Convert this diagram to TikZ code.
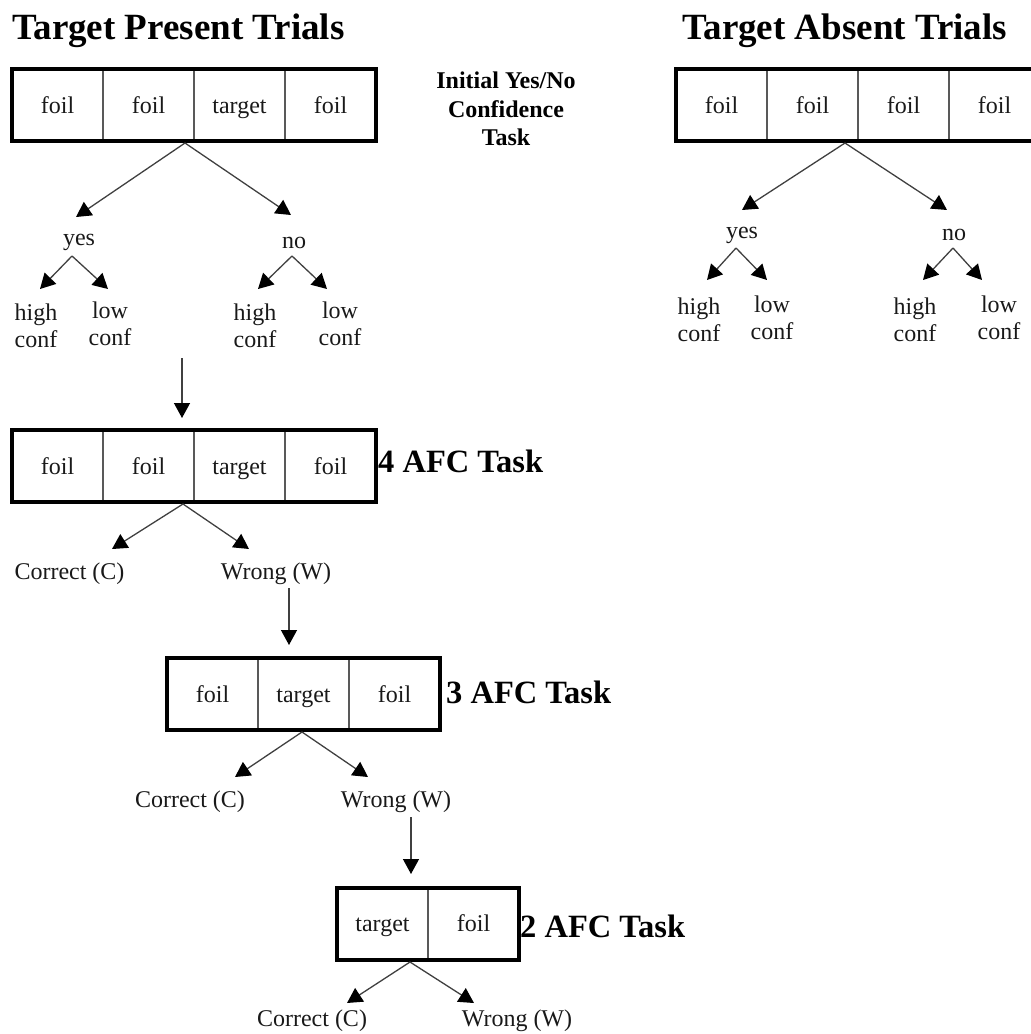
\documentclass[tikz,border=0pt]{standalone}
\usepackage{fontspec}
\setmainfont{Liberation Serif}
\usetikzlibrary{arrows.meta,fit}
\begin{document}
\begin{tikzpicture}[x=1pt,y=-1pt,
  cell/.style={draw=black!65,line width=2.2pt,minimum width=91pt,minimum height=72pt,inner sep=0pt,outer sep=0pt,text height=20pt,text depth=4pt,font=\fontsize{24}{27}\selectfont,text=black!90},
  frame/.style={draw=black,line width=4pt,inner sep=0pt,outer sep=0pt},
  lbl/.style={font=\fontsize{24}{27}\selectfont,align=center,inner sep=0pt,text=black!90},
  title/.style={font=\fontsize{37}{40}\selectfont\bfseries,inner sep=0pt,anchor=base west},
  task/.style={font=\fontsize{32.5}{36}\selectfont\bfseries,inner sep=0pt,anchor=west},
  arr/.style={draw=black!75,line width=1.3pt,-{Triangle[length=15pt,width=16pt,color=black]}}]
\useasboundingbox (0,0) rectangle (1031,1034);
\clip (0,0) rectangle (1031,1034);

% titles
\node[title] (tp) at (12,39) {Target Present Trials};
\node[title] (ta) at (682,39) {Target Absent Trials};
\node[font=\fontsize{24}{28.5}\selectfont\bfseries,align=center,inner sep=0pt] (init) at (506,109) {Initial Yes/No\\Confidence\\Task};

% Target present: initial box
\node[cell] (p1) at (57.5,105) {foil};
\node[cell] (p2) at (148.5,105) {foil};
\node[cell] (p3) at (239.5,105) {target};
\node[cell] (p4) at (330.5,105) {foil};
\node[frame,fit=(p1)(p4)] (box1) {};

\coordinate (o1) at (185,143);
\node[lbl] (yes1) at (79,242) {yes};
\node[lbl] (no1) at (294,243) {no};
\coordinate (ty1) at (76,217);
\coordinate (tn1) at (291,215);
\draw[arr] (o1) -- (ty1);
\draw[arr] (o1) -- (tn1);

\coordinate (oy1) at (72,256);
\coordinate (oy1h) at (40,289);
\coordinate (oy1l) at (108,289);
\node[lbl] (yh1) at (36,326) {high\\conf};
\node[lbl] (yl1) at (110,324) {low\\conf};
\draw[arr] (oy1) -- (oy1h);
\draw[arr] (oy1) -- (oy1l);

\coordinate (on1) at (292,256);
\coordinate (on1h) at (258,289);
\coordinate (on1l) at (327,289);
\node[lbl] (nh1) at (255,326) {high\\conf};
\node[lbl] (nl1) at (340,324) {low\\conf};
\draw[arr] (on1) -- (on1h);
\draw[arr] (on1) -- (on1l);

% 4 AFC
\coordinate (d1s) at (182,358);
\coordinate (d1e) at (182,418);
\draw[arr] (d1s) -- (d1e);
\node[cell] (f1) at (57.5,466) {foil};
\node[cell] (f2) at (148.5,466) {foil};
\node[cell] (f3) at (239.5,466) {target};
\node[cell] (f4) at (330.5,466) {foil};
\node[frame,fit=(f1)(f4)] (box4) {};
\node[task] (t4) at (378,461) {4 AFC Task};
\coordinate (o4) at (183,504);
\coordinate (o4c) at (112,549);
\coordinate (o4w) at (249,549);
\node[lbl] (c4) at (69.5,574) {Correct (C)};
\node[lbl] (w4) at (276,574) {Wrong (W)};
\draw[arr] (o4) -- (o4c);
\draw[arr] (o4) -- (o4w);

% 3 AFC
\coordinate (d2s) at (289,588);
\coordinate (d2e) at (289,645);
\draw[arr] (d2s) -- (d2e);
\node[cell] (g1) at (212.5,694) {foil};
\node[cell] (g2) at (303.5,694) {target};
\node[cell] (g3) at (394.5,694) {foil};
\node[frame,fit=(g1)(g3)] (box3) {};
\node[task] (t3) at (446,692) {3 AFC Task};
\coordinate (o3) at (302,732);
\coordinate (o3c) at (235,777);
\coordinate (o3w) at (368,777);
\node[lbl] (c3) at (190,802) {Correct (C)};
\node[lbl] (w3) at (396,802) {Wrong (W)};
\draw[arr] (o3) -- (o3c);
\draw[arr] (o3) -- (o3w);

% 2 AFC
\coordinate (d3s) at (411,817);
\coordinate (d3e) at (411,874);
\draw[arr] (d3s) -- (d3e);
\node[cell] (h1) at (382.5,923.5) {target};
\node[cell] (h2) at (473.5,923.5) {foil};
\node[frame,fit=(h1)(h2)] (box2) {};
\node[task] (t2) at (520,926) {2 AFC Task};
\coordinate (o2) at (410,962);
\coordinate (o2c) at (347,1003);
\coordinate (o2w) at (474,1003);
\node[lbl] (c2) at (312,1021) {Correct (C)};
\node[lbl] (w2) at (517,1021) {Wrong (W)};
\draw[arr] (o2) -- (o2c);
\draw[arr] (o2) -- (o2w);

% Target absent
\node[cell] (a1) at (721.5,105) {foil};
\node[cell] (a2) at (812.5,105) {foil};
\node[cell] (a3) at (903.5,105) {foil};
\node[cell] (a4) at (994.5,105) {foil};
\node[frame,fit=(a1)(a4)] (boxa) {};
\coordinate (oa) at (845,143);
\coordinate (tya) at (742,210);
\coordinate (tna) at (947,210);
\node[lbl] (yesa) at (742,235) {yes};
\node[lbl] (noa) at (954,235) {no};
\draw[arr] (oa) -- (tya);
\draw[arr] (oa) -- (tna);

\coordinate (oya) at (736,248);
\coordinate (oyah) at (707,280);
\coordinate (oyal) at (767,280);
\node[lbl] (yha) at (699,320) {high\\conf};
\node[lbl] (yla) at (772,318) {low\\conf};
\draw[arr] (oya) -- (oyah);
\draw[arr] (oya) -- (oyal);

\coordinate (ona) at (953,248);
\coordinate (onah) at (923,280);
\coordinate (onal) at (982,280);
\node[lbl] (nha) at (915,320) {high\\conf};
\node[lbl] (nla) at (999,318) {low\\conf};
\draw[arr] (ona) -- (onah);
\draw[arr] (ona) -- (onal);
\end{tikzpicture}
\end{document}
